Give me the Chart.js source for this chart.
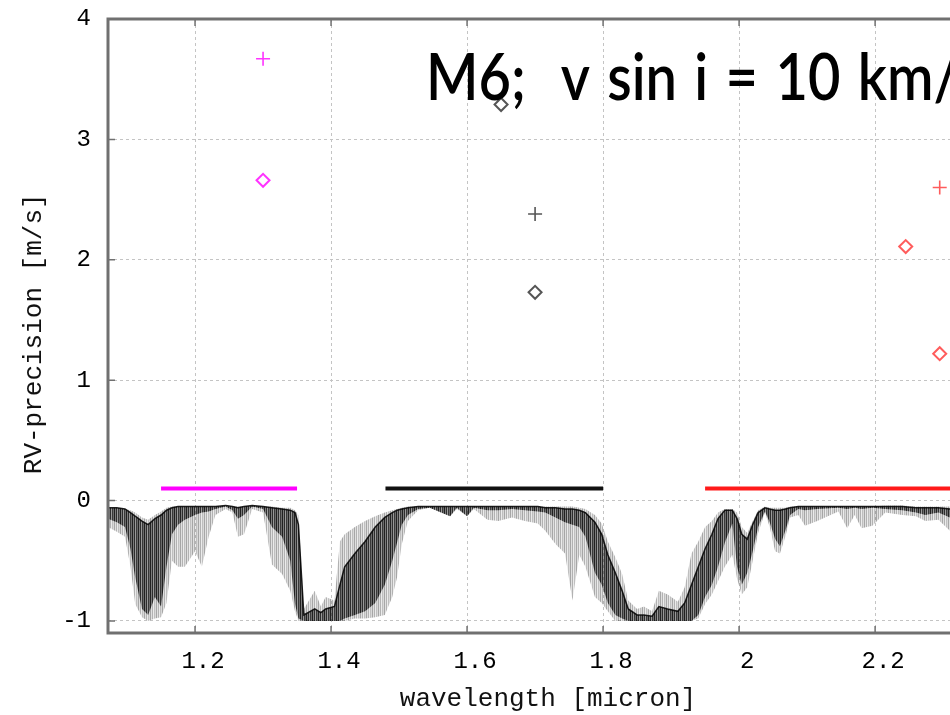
<!DOCTYPE html>
<html>
<head>
<meta charset="utf-8">
<script src="https://cdn.jsdelivr.net/npm/chart.js@4.4.0/dist/chart.umd.min.js"></script>
<style>
  html, body { margin: 0; padding: 0; background: #fff; overflow: hidden; }
  #wrap { width: 950px; height: 715px; overflow: hidden; }
  #box { width: 1000px; height: 715px; }
</style>
</head>
<body>
<div id="wrap"><div id="box"><canvas id="myChart"></canvas></div></div>
<script>
  /* DATA */

  // telluric spectrum, read as envelopes (wavelength in micron)
  const specWave = [
    1.072, 1.085, 1.097, 1.105, 1.112, 1.122, 1.131, 1.141, 1.150, 1.158,
    1.166, 1.175, 1.185, 1.200, 1.210, 1.220, 1.230, 1.245, 1.255, 1.263,
    1.272, 1.284, 1.300, 1.313, 1.328, 1.340, 1.347, 1.352, 1.360, 1.376,
    1.385, 1.392, 1.405, 1.413, 1.420, 1.435, 1.450, 1.465, 1.479, 1.490,
    1.497, 1.504, 1.513, 1.528, 1.545, 1.575, 1.585, 1.600, 1.610, 1.630,
    1.646, 1.666, 1.685, 1.704, 1.715, 1.730, 1.744, 1.755, 1.765, 1.774,
    1.788, 1.798, 1.807, 1.818, 1.828, 1.837, 1.850, 1.860, 1.872, 1.882,
    1.895, 1.910, 1.920, 1.930, 1.940, 1.950, 1.960, 1.969, 1.979, 1.990,
    1.997, 2.004, 2.012, 2.020, 2.028, 2.038, 2.045, 2.053, 2.060, 2.068,
    2.075, 2.087, 2.097, 2.115, 2.146, 2.159, 2.170, 2.180, 2.196, 2.215,
    2.240, 2.260, 2.274, 2.293, 2.310, 2.330, 2.400
  ];
  const specLightTop = [
    -0.06, -0.06, -0.07, -0.08, -0.10, -0.14, -0.16, -0.12, -0.09, -0.06,
    -0.05, -0.05, -0.05, -0.05, -0.05, -0.05, -0.05, -0.04, -0.05, -0.05,
    -0.05, -0.04, -0.05, -0.05, -0.06, -0.06, -0.08, -0.12, -0.90, -0.75,
    -0.88, -0.80, -0.83, -0.34, -0.28, -0.22, -0.17, -0.13, -0.10, -0.08,
    -0.07, -0.06, -0.05, -0.05, -0.05, -0.05, -0.05, -0.05, -0.05, -0.05,
    -0.05, -0.05, -0.05, -0.05, -0.05, -0.05, -0.05, -0.05, -0.06, -0.07,
    -0.12, -0.19, -0.34, -0.47, -0.61, -0.83, -0.90, -0.88, -0.92, -0.75,
    -0.78, -0.84, -0.72, -0.44, -0.34, -0.22, -0.17, -0.10, -0.07, -0.07,
    -0.10, -0.22, -0.27, -0.17, -0.08, -0.05, -0.06, -0.06, -0.06, -0.06,
    -0.05, -0.05, -0.05, -0.05, -0.05, -0.05, -0.05, -0.05, -0.05, -0.04,
    -0.04, -0.05, -0.05, -0.05, -0.05, -0.06, -0.06
  ];
  const specDarkTop = [
    -0.06, -0.06, -0.07, -0.10, -0.13, -0.17, -0.20, -0.15, -0.12, -0.08,
    -0.06, -0.05, -0.05, -0.05, -0.05, -0.05, -0.05, -0.04, -0.05, -0.06,
    -0.05, -0.04, -0.05, -0.06, -0.07, -0.08, -0.10, -0.20, -0.95, -0.90,
    -0.93, -0.90, -0.88, -0.70, -0.55, -0.44, -0.34, -0.22, -0.14, -0.10,
    -0.08, -0.07, -0.06, -0.05, -0.05, -0.05, -0.05, -0.05, -0.05, -0.05,
    -0.05, -0.05, -0.05, -0.05, -0.06, -0.06, -0.07, -0.07, -0.08, -0.10,
    -0.18, -0.28, -0.45, -0.60, -0.75, -0.90, -0.95, -0.95, -0.96, -0.88,
    -0.90, -0.92, -0.85, -0.70, -0.55, -0.40, -0.28, -0.15, -0.08, -0.08,
    -0.15, -0.28, -0.32, -0.20, -0.10, -0.06, -0.07, -0.08, -0.08, -0.07,
    -0.06, -0.05, -0.05, -0.05, -0.05, -0.05, -0.05, -0.05, -0.05, -0.05,
    -0.05, -0.06, -0.06, -0.06, -0.07, -0.07, -0.07
  ];
  const specDarkBottom = [
    -0.15, -0.18, -0.22, -0.40, -0.64, -0.90, -0.95, -0.80, -0.88, -0.55,
    -0.28, -0.20, -0.16, -0.12, -0.10, -0.09, -0.07, -0.05, -0.08, -0.15,
    -0.12, -0.05, -0.07, -0.22, -0.30, -0.50, -0.86, -0.98, -1.00, -1.00,
    -1.00, -1.00, -1.00, -1.00, -0.98, -0.95, -0.92, -0.85, -0.70, -0.50,
    -0.35, -0.20, -0.12, -0.07, -0.06, -0.13, -0.06, -0.13, -0.06, -0.08,
    -0.08, -0.07, -0.08, -0.09, -0.10, -0.14, -0.18, -0.20, -0.22, -0.30,
    -0.60, -0.70, -0.85, -0.95, -0.98, -1.00, -1.00, -1.00, -1.00, -1.00,
    -1.00, -1.00, -1.00, -1.00, -0.95, -0.80, -0.70, -0.55, -0.35, -0.19,
    -0.55, -0.70, -0.60, -0.42, -0.22, -0.09, -0.18, -0.32, -0.38, -0.25,
    -0.12, -0.07, -0.08, -0.07, -0.06, -0.07, -0.06, -0.07, -0.06, -0.07,
    -0.08, -0.10, -0.12, -0.10, -0.14, -0.15, -0.15
  ];
  const specLightBottom = [
    -0.22, -0.26, -0.30, -0.55, -0.86, -0.97, -1.00, -0.98, -0.97, -0.85,
    -0.50, -0.55, -0.55, -0.42, -0.55, -0.30, -0.12, -0.07, -0.10, -0.30,
    -0.28, -0.07, -0.10, -0.53, -0.61, -0.75, -0.92, -1.00, -1.00, -1.00,
    -1.00, -1.00, -1.00, -1.00, -1.00, -0.98, -0.98, -0.97, -0.95, -0.80,
    -0.64, -0.36, -0.17, -0.08, -0.06, -0.13, -0.07, -0.13, -0.07, -0.16,
    -0.17, -0.14, -0.17, -0.19, -0.25, -0.36, -0.44, -0.83, -0.45, -0.55,
    -0.80, -0.85, -0.92, -1.00, -1.00, -1.00, -1.00, -1.00, -1.00, -1.00,
    -1.00, -1.00, -1.00, -1.00, -0.98, -0.86, -0.78, -0.67, -0.55, -0.45,
    -0.65, -0.78, -0.72, -0.50, -0.27, -0.10, -0.22, -0.42, -0.44, -0.30,
    -0.14, -0.12, -0.21, -0.17, -0.09, -0.23, -0.12, -0.23, -0.21, -0.10,
    -0.12, -0.13, -0.17, -0.16, -0.25, -0.30, -0.30
  ];

  // band ranges [start, end] and the level they are drawn at
  const jBand = [1.15, 1.35];
  const hBand = [1.48, 1.80];
  const kBand = [1.95, 2.50];
  const bandLevel = 0.1;

  // RV precision points [wavelength, m/s]
  const jPlus = [[1.30, 3.67]];
  const jDiamond = [[1.30, 2.66]];
  const hPlus = [[1.70, 2.38]];
  const hDiamond = [[1.65, 3.29], [1.70, 1.73]];
  const kPlus = [[2.295, 2.60]];
  const kDiamond = [[2.245, 2.11], [2.295, 1.22]];

  const xTickValues = [1.2, 1.4, 1.6, 1.8, 2.0, 2.2];
  const xTickLabels = ['1.2', '1.4', '1.6', '1.8', '2', '2.2'];
  const yTickValues = [-1, 0, 1, 2, 3, 4];
  const yTickLabels = ['-1', '0', '1', '2', '3', '4'];

  const titleText = 'M6;  v sin i = 10 km/s';

  /* STYLE */

  const bandColors = ['#ff00ff', '#111111', '#ff1a1a'];
  const markerColors = ['#ff33ff', '#555555', '#ff5c5c'];
  const monoFont = '"Liberation Mono", "DejaVu Sans Mono", monospace';

  function stripes(ctx, alphas) {
    const c = document.createElement('canvas');
    c.width = alphas.length;
    c.height = 4;
    const g = c.getContext('2d');
    alphas.forEach((a, i) => {
      g.fillStyle = 'rgba(0,0,0,' + a + ')';
      g.fillRect(i, 0, 1, 4);
    });
    return ctx.createPattern(c, 'repeat');
  }

  function toPoints(xs, ys) {
    return xs.map((x, i) => ({ x: x, y: ys[i] }));
  }

  function bandLine(range, color) {
    return {
      data: [{ x: range[0], y: bandLevel }, { x: range[1], y: bandLevel }],
      borderColor: color,
      borderWidth: 4,
      pointRadius: 0,
      fill: false
    };
  }

  function markers(points, style, color) {
    return {
      data: points.map(p => ({ x: p[0], y: p[1] })),
      showLine: false,
      pointStyle: style,
      pointRadius: style === 'cross' ? 7 : 6.5,
      pointBorderWidth: style === 'cross' ? 1.6 : 2,
      pointBorderColor: color,
      pointBackgroundColor: 'rgba(0,0,0,0)',
      borderColor: color,
      fill: false
    };
  }

  const framePlugin = {
    id: 'frame',
    afterDatasetsDraw(chart) {
      const { ctx, chartArea: a, scales: { x, y } } = chart;
      ctx.save();
      ctx.strokeStyle = '#707070';
      ctx.lineWidth = 1.5;
      ctx.beginPath();
      xTickValues.forEach(v => {
        const px = x.getPixelForValue(v);
        ctx.moveTo(px, a.bottom); ctx.lineTo(px, a.bottom - 7);
        ctx.moveTo(px, a.top); ctx.lineTo(px, a.top + 7);
      });
      yTickValues.forEach(v => {
        const py = y.getPixelForValue(v);
        ctx.moveTo(a.left, py); ctx.lineTo(a.left + 7, py);
      });
      ctx.stroke();
      ctx.lineWidth = 3;
      ctx.strokeRect(a.left, a.top, a.right - a.left, a.bottom - a.top);

      // title inside the plot, squeezed a little and with wider word gaps
      ctx.fillStyle = '#000';
      ctx.font = '600 66px Lato';
      ctx.textBaseline = 'alphabetic';
      ctx.textAlign = 'left';
      const squeeze = 408 / ctx.measureText('M6;  v sin i = 10 ').width;
      ctx.wordSpacing = '4px';
      ctx.translate(a.left + 318, a.top + 81);
      ctx.scale(squeeze, 1);
      ctx.fillText(titleText, 0, 0);
      ctx.restore();
    }
  };

  function initChart(canvas) {
    const ctx = canvas.getContext('2d');
    const darkFill = stripes(ctx, [0.8, 0.45, 0.75, 0.35, 0.7, 0.5]);
    const lightFill = stripes(ctx, [0.35, 0.12, 0.3, 0.08, 0.25, 0.15]);

    return new Chart(canvas, {
      type: 'line',
      data: {
        datasets: [
          { data: toPoints(specWave, specLightTop), borderWidth: 0, pointRadius: 0,
            backgroundColor: lightFill, fill: { target: 1 } },
          { data: toPoints(specWave, specLightBottom), borderWidth: 0, pointRadius: 0, fill: false },
          { data: toPoints(specWave, specDarkTop), borderWidth: 1.5, borderColor: 'rgba(0,0,0,0.85)',
            pointRadius: 0, backgroundColor: darkFill, fill: { target: 3 } },
          { data: toPoints(specWave, specDarkBottom), borderWidth: 0, pointRadius: 0, fill: false },
          bandLine(jBand, bandColors[0]),
          bandLine(hBand, bandColors[1]),
          bandLine(kBand, bandColors[2]),
          markers(jPlus, 'cross', markerColors[0]),
          markers(jDiamond, 'rectRot', markerColors[0]),
          markers(hPlus, 'cross', markerColors[1]),
          markers(hDiamond, 'rectRot', markerColors[1]),
          markers(kPlus, 'cross', markerColors[2]),
          markers(kDiamond, 'rectRot', markerColors[2])
        ]
      },
      options: {
        responsive: true,
        maintainAspectRatio: false,
        devicePixelRatio: 1,
        animation: false,
        layout: { padding: { left: 0, top: 19, right: 12, bottom: 0 } },
        elements: { line: { tension: 0 } },
        plugins: {
          legend: { display: false },
          tooltip: { enabled: false }
        },
        scales: {
          x: {
            type: 'linear',
            min: 1.072,
            max: 2.366,
            afterBuildTicks: scale => { scale.ticks = xTickValues.map(v => ({ value: v })); },
            afterFit: scale => { scale.height = 82; scale.paddingLeft = 0; scale.paddingRight = 0; },
            ticks: {
              callback: (v, i) => xTickLabels[i],
              font: { family: monoFont, size: 24 },
              color: '#000',
              padding: 14,
              labelOffset: 8,
              maxRotation: 0,
              autoSkip: false
            },
            grid: { color: '#c4c4c4', lineWidth: 1, drawTicks: false },
            border: { display: false, dash: [3, 3] },
            title: {
              display: true,
              text: 'wavelength [micron]',
              font: { family: monoFont, size: 26 },
              color: '#111',
              padding: { top: 0, bottom: 0 }
            }
          },
          y: {
            type: 'linear',
            min: -1.1,
            max: 4,
            afterBuildTicks: scale => { scale.ticks = yTickValues.map(v => ({ value: v })); },
            afterFit: scale => { scale.width = 108; scale.paddingTop = 0; scale.paddingBottom = 0; },
            ticks: {
              callback: (v, i) => yTickLabels[i],
              font: { family: monoFont, size: 24 },
              color: '#000',
              padding: 17
            },
            grid: { color: '#c4c4c4', lineWidth: 1, drawTicks: false },
            border: { display: false, dash: [3, 3] },
            title: {
              display: true,
              text: 'RV-precision [m/s] ',
              font: { family: monoFont, size: 26 },
              color: '#111',
              padding: { top: 19, bottom: 0 }
            }
          }
        }
      },
      plugins: [framePlugin]
    });
  }

  document.addEventListener('DOMContentLoaded', () => {
    initChart(document.querySelector('#myChart'));
  });
</script>
</body>
</html>
